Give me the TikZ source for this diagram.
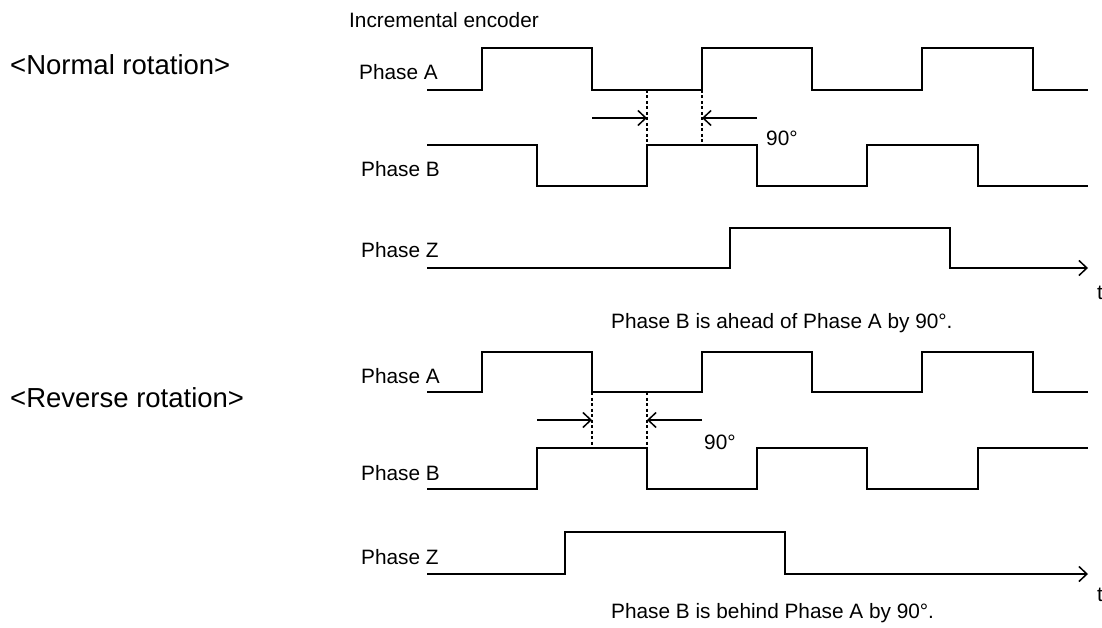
\documentclass[tikz,border=0pt]{standalone}
\usepackage{fontspec}
\setmainfont{Liberation Sans}
\usetikzlibrary{arrows.meta}
\begin{document}
\begin{tikzpicture}[x=1pt,y=-1pt,
  wave/.style={line width=1.8pt, line join=miter},
  tarrow/.style={-{Straight Barb[length=8pt,width=15pt,line width=1.5pt]}},
  dimarrow/.style={line width=1.5pt, -{Straight Barb[length=8pt,width=15pt,line width=1.5pt]}},
  guide/.style={line width=1.5pt, dash pattern=on 3pt off 2.5pt},
  lbl/.style={anchor=base west, inner sep=0pt, font=\fontsize{20.8}{24}\selectfont},
  headlbl/.style={anchor=base west, inner sep=0pt, font=\fontsize{27.5}{32}\selectfont}]
\useasboundingbox (0,0) rectangle (1102,628);

% ---------- texts ----------
\node[lbl] (enc) at (349,28) {Incremental encoder};
\node[headlbl] (normal) at (10,75) {<Normal rotation>};
\node[headlbl] (reverse) at (10,407) {<Reverse rotation>};

\node[lbl] (nA) at (359,80) {Phase A};
\node[lbl] (nB) at (361,177) {Phase B};
\node[lbl] (nZ) at (361,258) {Phase Z};
\node[lbl] (n90) at (766,146) {90°};
\node[lbl] (nt) at (1097,299) {t};
\node[lbl] (ncap) at (611,328) {Phase B is ahead of Phase A by 90°.};

\node[lbl] (rA) at (361,383) {Phase A};
\node[lbl] (rB) at (361,480) {Phase B};
\node[lbl] (rZ) at (361,564) {Phase Z};
\node[lbl] (r90) at (704,449) {90°};
\node[lbl] (rt) at (1097,601) {t};
\node[lbl] (rcap) at (611,618) {Phase B is behind Phase A by 90°.};

% ---------- normal rotation ----------
\draw[wave] (427,90) -| (482,48) -| (592,90) -| (702,48) -| (812,90) -| (922,48) -| (1033,90) -- (1088,90);
\draw[wave] (427,145) -| (537,186) -| (647,145) -| (757,186) -| (867,145) -| (978,186) -- (1088,186);
\draw[wave, tarrow] (427,268) -| (730,228) -| (950,268) -- (1088,268);

\draw[guide] (647,90) -- (647,145);
\draw[guide] (702,90) -- (702,145);
\coordinate (na1) at (592,118);
\coordinate (na2) at (647,118);
\coordinate (nb1) at (757,118);
\coordinate (nb2) at (702,118);
\draw[dimarrow] (na1) -- (na2);
\draw[dimarrow] (nb1) -- (nb2);

% ---------- reverse rotation ----------
\draw[wave] (427,392) -| (482,352) -| (592,392) -| (702,352) -| (812,392) -| (922,352) -| (1033,392) -- (1088,392);
\draw[wave] (427,489) -| (537,448) -| (647,489) -| (757,448) -| (867,489) -| (978,448) -- (1088,448);
\draw[wave, tarrow] (427,574) -| (565,532) -| (785,574) -- (1088,574);

\draw[guide] (592,392) -- (592,448);
\draw[guide] (647,392) -- (647,448);
\coordinate (ra1) at (537,420);
\coordinate (ra2) at (592,420);
\coordinate (rb1) at (702,420);
\coordinate (rb2) at (647,420);
\draw[dimarrow] (ra1) -- (ra2);
\draw[dimarrow] (rb1) -- (rb2);
\end{tikzpicture}
\end{document}
